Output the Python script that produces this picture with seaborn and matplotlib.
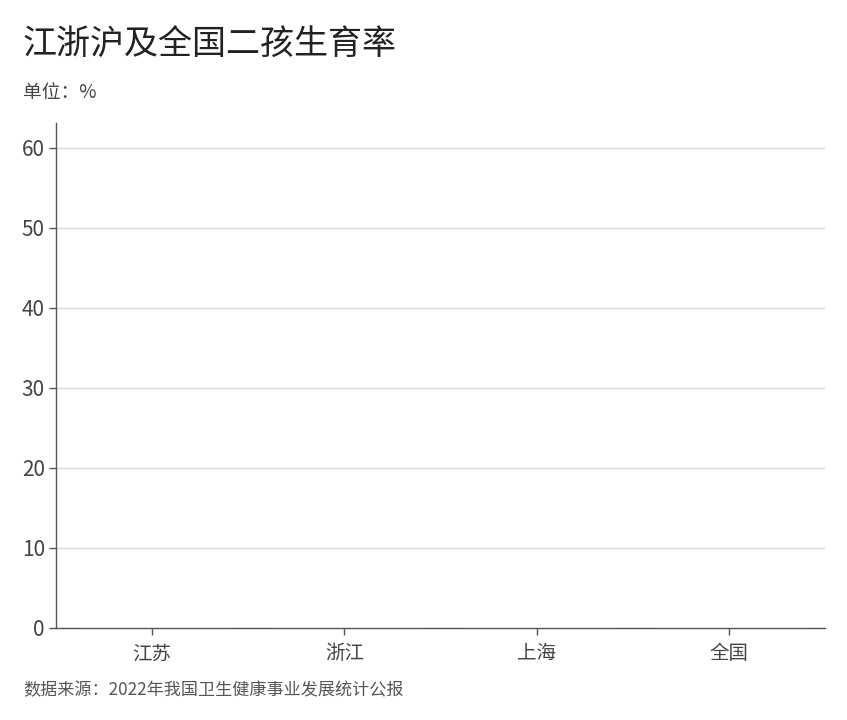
import matplotlib
matplotlib.use("Agg")
import matplotlib.pyplot as plt
import seaborn as sns
import pandas as pd

# categories on the x axis
regions = ["江苏", "浙江", "上海", "全国"]
# no bars are visible in the reference, so the heights read as zero
rates = [0, 0, 0, 0]
y_ticks = [0, 10, 20, 30, 40, 50, 60]

sns.set_theme(style="white")
plt.rcParams['font.family'] = ['Noto Sans CJK SC', 'DejaVu Sans']

df = pd.DataFrame({"region": regions, "rate": rates})

fig = plt.figure(figsize=(8.47, 7.2), dpi=100)
ax = fig.add_axes([0.0661, 0.1278, 0.9079, 0.7014])

sns.barplot(data=df, x="region", y="rate", color="#c0392b", ax=ax, zorder=3)

ax.set_xlim(-0.5, 3.5)
ax.set_ylim(0, 63.1)
ax.set_yticks(y_ticks)
ax.yaxis.grid(True, color="#d9d9d9", linewidth=1)
ax.set_axisbelow(True)
for s in ["top", "right"]:
    ax.spines[s].set_visible(False)
for s in ["left", "bottom"]:
    ax.spines[s].set_color("#555555")
    ax.spines[s].set_linewidth(1)
ax.tick_params(axis="both", which="both", direction="out", length=5, width=1,
               color="#555555", labelcolor="#444444", left=True, bottom=True)
ax.tick_params(axis="y", labelsize=15, pad=3)
ax.tick_params(axis="x", labelsize=14, pad=6)
ax.set_xlabel("")
ax.set_ylabel("")

fig.text(0.027, 0.937, "江浙沪及全国二孩生育率", fontsize=24.5, fontweight="medium",
         color="#222222", va="center")
fig.text(0.027, 0.872, "单位：%", fontsize=13.5, color="#444444", va="center")
fig.text(0.027, 0.042, "数据来源：2022年我国卫生健康事业发展统计公报", fontsize=12.3,
         color="#555555", va="center")

fig.savefig("out.png", dpi=100, facecolor="white")
